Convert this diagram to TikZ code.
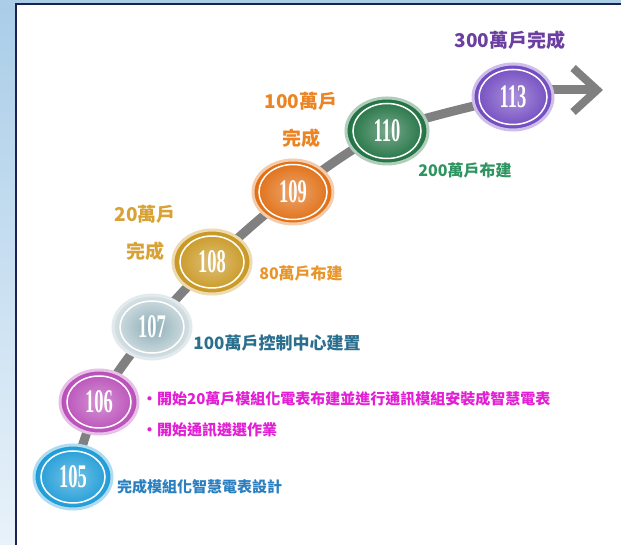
\documentclass[tikz,border=0pt]{standalone}
\usepackage{fontspec}
\setmainfont{Liberation Serif}
\newfontfamily\cjk{Noto Sans CJK TC}
\usetikzlibrary{shapes.geometric,arrows.meta,backgrounds}
\definecolor{framenavy}{RGB}{26,35,80}
\definecolor{sidetop}{RGB}{170,205,232}
\definecolor{sidebot}{RGB}{232,242,250}
\definecolor{trunkgray}{RGB}{128,128,128}
\definecolor{cfive}{RGB}{26,154,214}
\definecolor{csix}{RGB}{184,76,184}
\definecolor{cseven}{RGB}{140,172,182}
\definecolor{ceight}{RGB}{200,150,30}
\definecolor{cnine}{RGB}{224,108,16}
\definecolor{cten}{RGB}{30,112,64}
\definecolor{cthirteen}{RGB}{112,72,192}
\definecolor{txpurple}{RGB}{107,63,160}
\definecolor{txorange}{RGB}{236,132,36}
\definecolor{txgreen}{RGB}{46,148,96}
\definecolor{txgold}{RGB}{216,162,54}
\definecolor{txamber}{RGB}{232,150,42}
\definecolor{txteal}{RGB}{43,111,143}
\definecolor{txmagenta}{RGB}{226,31,212}
\definecolor{txblue}{RGB}{42,127,192}
\newcommand{\slim}[1]{\scalebox{0.56}[1]{#1}}

\begin{document}
\begin{tikzpicture}[x=1pt,y=1pt,
  stone/.style={ellipse,minimum width=78pt,minimum height=64pt,inner sep=0pt,
    inner color=#1!60!white,outer color=#1,draw=#1!35!white,line width=3pt,
    font=\bfseries\fontsize{33}{33}\selectfont,text=white},
  ring/.style={draw=white,line width=1.5pt},
  lab/.style={font=\cjk\bfseries\fontsize{19}{37}\selectfont,inner sep=0pt,align=center},
  note/.style={font=\cjk\bfseries\fontsize{15}{31}\selectfont,inner sep=0pt,align=left},
  trunk/.style={draw=trunkgray,line width=9pt}]
\useasboundingbox (0,0) rectangle (621,545);
\begin{scope}[on background layer]
\fill[top color=sidetop,bottom color=sidebot] (0,0) rectangle (621,545);
\fill[white] (16,-2) rectangle (623,541);
\draw[framenavy,line width=2pt] (16,-2) -- (16,541) -- (623,541);
\end{scope}
% milestones
\node[stone=cfive] (s105) at (73,68) {\slim{105}};
\node[stone=csix] (s106) at (99,143) {\slim{106}};
\node[stone=cseven,inner color=cseven,outer color=cseven!35!white,draw=cseven!25!white] (s107) at (152,218) {\slim{107}};
\node[stone=ceight] (s108) at (212,283) {\slim{108}};
\node[stone=cnine,minimum width=80pt,minimum height=64pt] (s109) at (293,353) {\slim{109}};
\node[stone=cten,minimum width=82pt,minimum height=66pt] (s110) at (387,414) {\slim{110}};
\node[stone=cthirteen,minimum width=80pt,minimum height=66pt] (s113) at (513,448) {\slim{113}};
\coordinate (tip) at (603,455);
\foreach \s in {105,106,107,108} \draw[ring] (s\s.center) ellipse (32pt and 26pt);
\foreach \s in {109,110,113} \draw[ring] (s\s.center) ellipse (34pt and 27.5pt);
% labels
\node[lab,text=txpurple] (l300) at (510,505) {300萬戶完成};
\node[lab,text=txorange] (l100) at (301,425) {100萬戶\\完成};
\node[note,font=\cjk\bfseries\fontsize{16}{16}\selectfont,text=txgreen] (l200) at (465,375) {200萬戶布建};
\node[lab,text=txgold] (l20) at (145,312) {20萬戶\\完成};
\node[note,font=\cjk\bfseries\fontsize{16}{16}\selectfont,text=txamber] (l80) at (301,272) {80萬戶布建};
\node[note,font=\cjk\bfseries\fontsize{17}{17}\selectfont,text=txteal] (lctl) at (277,202) {100萬戶控制中心建置};
\node[note,anchor=west,text=txmagenta] (lstart) at (142,131) {•開始20萬戶模組化電表布建並進行通訊模組安裝成智慧電表\\•開始通訊遴選作業};
\node[note,anchor=west,text=txblue] (ldesign) at (117,58) {完成模組化智慧電表設計};
% timeline
\begin{scope}[on background layer]
\draw[trunk] plot[smooth,tension=0.5] coordinates {(s105) (s106) (s107) (s108) (s109) (s110) (s113)};
\draw[trunk,-{Straight Barb[length=24pt,width=44pt,line width=8pt]}] (s113 |- tip) -- (tip);
\end{scope}
\end{tikzpicture}
\end{document}
